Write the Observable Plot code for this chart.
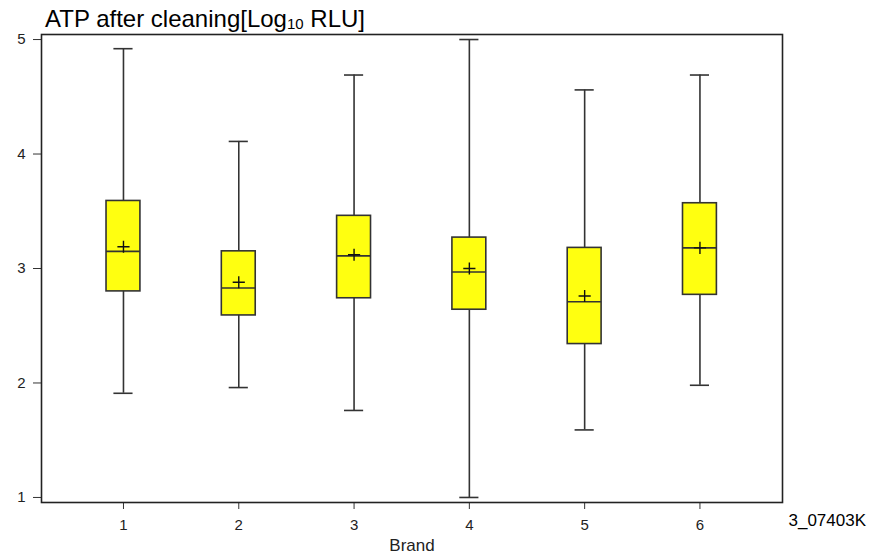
<!DOCTYPE html>
<html><head><meta charset="utf-8">
<script src="https://cdn.jsdelivr.net/npm/d3@7"></script>
<script src="https://cdn.jsdelivr.net/npm/@observablehq/plot@0.6"></script>
<style>
body{margin:0;background:#fff;}
#wrap{position:relative;width:873px;height:559px;font-family:"Liberation Sans",Arial,sans-serif;}
#title{position:absolute;left:45px;top:7px;font-size:24px;line-height:24px;color:#000;white-space:nowrap;z-index:2;}
#title sub{font-size:15px;line-height:0;vertical-align:-2px;}
#chart{position:absolute;left:0;top:0;}
</style></head><body>
<div id="wrap"><div id="chart"></div><div id="title">ATP after cleaning[Log<sub>10</sub> RLU]</div></div>
<script>
const brands = [1, 2, 3, 4, 5, 6];
const whiskerHigh = [4.92, 4.11, 4.69, 5.00, 4.56, 4.69];
const q3 = [3.59, 3.15, 3.46, 3.27, 3.18, 3.57];
const median = [3.15, 2.83, 3.11, 2.97, 2.71, 3.18];
const mean = [3.19, 2.88, 3.12, 3.00, 2.76, 3.18];
const q1 = [2.80, 2.59, 2.74, 2.64, 2.34, 2.77];
const whiskerLow = [1.91, 1.96, 1.76, 1.00, 1.59, 1.98];
const yTicks = [1, 2, 3, 4, 5];
const xLabel = "Brand";
const caption = "3_07403K";

const data = brands.map((b, i) => ({
  brand: b, high: whiskerHigh[i], q3: q3[i], median: median[i],
  mean: mean[i], q1: q1[i], low: whiskerLow[i]
}));

const boxHalf = 0.147;
const capHalf = 0.083;
const ink = "#333";

const chart = Plot.plot({
  width: 873, height: 559,
  marginLeft: 41, marginRight: 91, marginTop: 34, marginBottom: 57,
  style: {fontFamily: "'Liberation Sans', Arial, sans-serif", fontSize: "15px", color: "#222", background: "#fff"},
  x: {type: "linear", domain: [0.289, 6.716]},
  y: {type: "linear", domain: [0.956, 5.044]},
  marks: [
    Plot.axisY({ticks: yTicks, tickSize: 8, tickPadding: 8, tickFormat: "d", label: null, fontSize: 15, stroke: ink}),
    Plot.axisX({ticks: brands, tickSize: 7, tickPadding: 10, tickFormat: "d", label: null, fontSize: 15, stroke: ink}),
    Plot.ruleX(data, {x: "brand", y1: "low", y2: "high", stroke: ink, strokeWidth: 1.6}),
    Plot.ruleY(data, {y: "low", x1: d => d.brand - capHalf, x2: d => d.brand + capHalf, stroke: ink, strokeWidth: 1.6}),
    Plot.ruleY(data, {y: "high", x1: d => d.brand - capHalf, x2: d => d.brand + capHalf, stroke: ink, strokeWidth: 1.6}),
    Plot.rect(data, {x1: d => d.brand - boxHalf, x2: d => d.brand + boxHalf, y1: "q1", y2: "q3", fill: "#ffff10", stroke: ink, strokeWidth: 1.6}),
    Plot.ruleY(data, {y: "median", x1: d => d.brand - boxHalf, x2: d => d.brand + boxHalf, stroke: ink, strokeWidth: 1.6}),
    Plot.dot(data, {x: "brand", y: "mean", symbol: "plus", r: 4, stroke: "#111", strokeWidth: 1.4}),
    Plot.frame({stroke: "#222", strokeWidth: 1.6}),
    Plot.text([xLabel], {frameAnchor: "bottom", text: d => d, dy: 48, fontSize: 17, fill: "#222"}),
    Plot.text([caption], {frameAnchor: "bottom-right", text: d => d, textAnchor: "start", dx: 6, dy: 23, fontSize: 17, fill: "#000"})
  ]
});
document.getElementById("chart").appendChild(chart);
</script>
</body></html>
